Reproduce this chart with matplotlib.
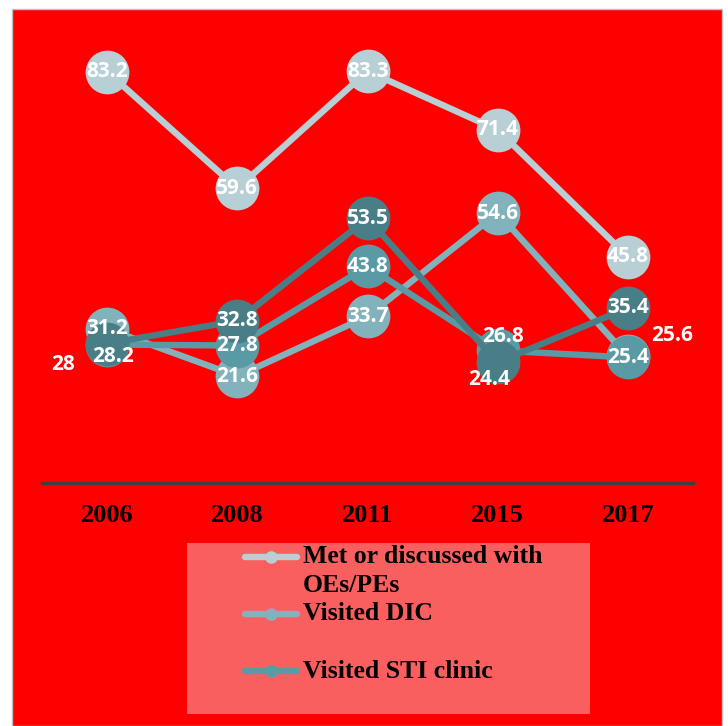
import matplotlib
matplotlib.use("Agg")
import matplotlib.pyplot as plt
from matplotlib.patches import Rectangle
from matplotlib.lines import Line2D

years = ["2006", "2008", "2011", "2015", "2017"]
met_oes = [83.2, 59.6, 83.3, 71.4, 45.8]
visited_dic = [31.2, 21.6, 33.7, 54.6, 25.6]
visited_sti = [28.0, 27.8, 43.8, 26.8, 25.4]
fourth_series = [28.2, 32.8, 53.5, 24.4, 35.4]

series_labels = ["Met or discussed with\nOEs/PEs", "Visited DIC", "Visited STI clinic"]

c_met = "#b8d0d5"
c_dic = "#82b3bc"
c_sti = "#5a9aa4"
c_dark = "#4a7e87"

W, H = 728, 726
fig = plt.figure(figsize=(W / 100, H / 100), dpi=100)
fig.patch.set_facecolor("white")

# red chart area
fig.patches.append(Rectangle((12 / W, 0), (722 - 12) / W, (726 - 9) / H,
                             transform=fig.transFigure, facecolor="#ff0000",
                             edgecolor="#bfbfbf", linewidth=1, zorder=-3))
# legend box
fig.patches.append(Rectangle((187 / W, (H - 714) / H), (590 - 187) / W, (714 - 543) / H,
                             transform=fig.transFigure, facecolor="#fa5f5f",
                             edgecolor="none", zorder=-2))

ax = fig.add_axes([42 / W, (H - 483) / H, (693 - 42) / W, 445 / H])
ax.set_facecolor("none")
x = list(range(len(years)))

ms = 31.5
lw = 4.6
series = [(met_oes, c_met), (visited_dic, c_dic), (visited_sti, c_sti), (fourth_series, c_dark)]
for i, (vals, col) in enumerate(series):
    ax.plot(x, vals, color=col, lw=lw, marker="o", markersize=ms,
            markeredgewidth=0, zorder=2 + i, solid_capstyle="round")

# label offsets (points) for crowded points
offsets = {
    (2, 0): (-32, -14),   # STI 2006
    (3, 0): (4, -9),      # dark 2006
    (2, 3): (4, 10),      # STI 2015
    (3, 3): (-6, -12),    # dark 2015
    (1, 4): (32, 15),     # DIC 2017
}
for si, (vals, col) in enumerate(series):
    for xi, v in enumerate(vals):
        dx, dy = offsets.get((si, xi), (0, 0))
        ax.annotate(f"{v:g}", (xi, v), xytext=(dx, dy), textcoords="offset points",
                    ha="center", va="center", color="white", fontsize=15,
                    fontweight="bold", family="Open Sans", zorder=10)

ax.set_xlim(-0.5, len(years) - 0.5)
ax.set_ylim(0, 90)
ax.set_yticks([])
ax.set_xticks(x)
ax.set_xticklabels(years, fontsize=19, fontweight="bold", family="Liberation Serif")
ax.tick_params(axis="x", length=0, pad=15)
for s in ["top", "left", "right"]:
    ax.spines[s].set_visible(False)
ax.spines["bottom"].set_color("#404040")
ax.spines["bottom"].set_linewidth(2.4)

leg_rows = [(557, c_met, series_labels[0], 571), (614, c_dic, series_labels[1], 614),
            (671, c_sti, series_labels[2], 671)]
for yline, col, lab, ytext in leg_rows:
    yf = (H - yline) / H
    fig.add_artist(Line2D([245 / W, 297 / W], [yf, yf], color=col, lw=4.6,
                          solid_capstyle="round", transform=fig.transFigure))
    fig.add_artist(Line2D([271 / W], [yf], color=col, marker="o", markersize=9,
                          markeredgewidth=0, transform=fig.transFigure))
    fig.text(303 / W, (H - ytext) / H, lab, ha="left", va="center", fontsize=18.5,
             fontweight="bold", family="Liberation Serif", color="black",
             linespacing=1.3)

fig.savefig("out.png", dpi=100, facecolor="white")
